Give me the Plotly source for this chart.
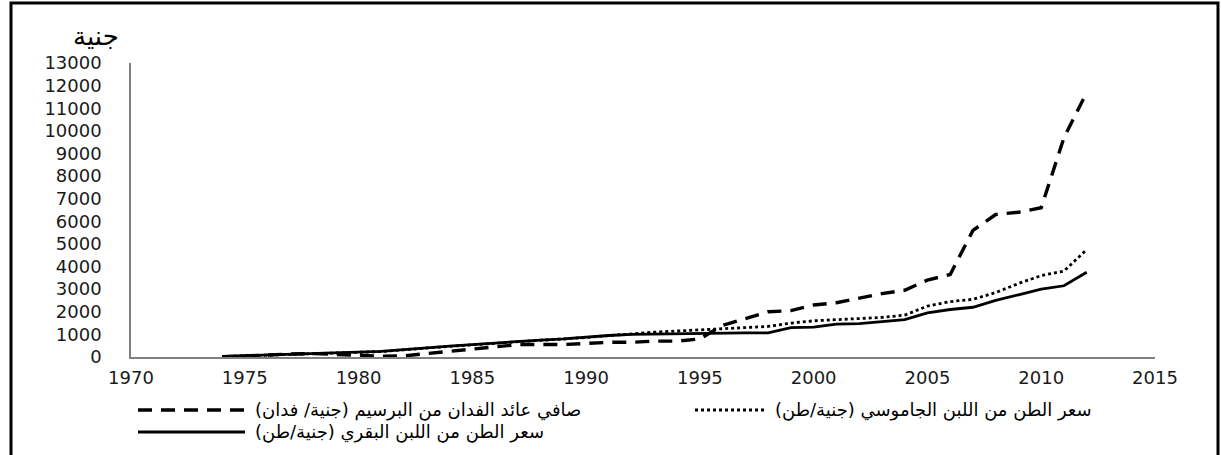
import plotly.graph_objects as go

years = list(range(1974, 2013))

# صافي عائد الفدان من البرسيم (جنية/ فدان)
clover_net = [0, 50, 100, 130, 150, 110, 60, 40, 50, 150, 250, 350, 450, 550, 550, 550,
              600, 650, 650, 700, 700, 800, 1400, 1700, 2000, 2050, 2300, 2400, 2600, 2800,
              2950, 3400, 3650, 5600, 6300, 6400, 6600, 9700, 11700]

# سعر الطن من اللبن الجاموسي (جنية/طن)
buffalo_milk = [20, 50, 90, 120, 160, 180, 200, 240, 320, 410, 470, 540, 610, 690, 740, 790,
                870, 950, 1050, 1100, 1150, 1200, 1250, 1300, 1350, 1500, 1600, 1650, 1700, 1750,
                1850, 2250, 2450, 2550, 2850, 3250, 3600, 3800, 4750]

# سعر الطن من اللبن البقري (جنية/طن)
cow_milk = [30, 60, 100, 130, 170, 190, 210, 250, 330, 420, 480, 550, 620, 700, 750, 800,
            880, 950, 1000, 1020, 1040, 1050, 1070, 1070, 1070, 1300, 1320, 1450, 1480, 1550,
            1650, 1950, 2100, 2200, 2500, 2750, 3000, 3150, 3750]

names = [
    "صافي عائد الفدان من البرسيم (جنية/ فدان)",
    "سعر الطن من اللبن الجاموسي (جنية/طن)",
    "سعر الطن من اللبن البقري (جنية/طن)",
]
y_title = "جنية"

x_ticks = list(range(1970, 2016, 5))
y_ticks = list(range(0, 13001, 1000))

dash_styles = ["14px,9px", "3px,3px", "solid"]
widths = [3.4, 2.8, 2.8]
series = [clover_net, buffalo_milk, cow_milk]

fig = go.Figure()
for vals, nm, ds, w in zip(series, names, dash_styles, widths):
    fig.add_trace(go.Scatter(x=years, y=vals, mode="lines", name=nm,
                             line=dict(color="black", width=w, dash=ds),
                             showlegend=False))

W, H = 1221, 455
L, T = 131, 63
pw, ph = 1024, 294
R = W - L - pw
B = H - T - ph

def px(xp):
    return (xp - L) / pw

def py(yp):
    return (H - B - yp) / ph

tickfont = dict(family="DejaVu Sans", size=18, color="#1a1a1a")
legfont = dict(family="DejaVu Sans", size=18, color="black")

fig.update_layout(
    width=W, height=H,
    margin=dict(l=L, r=R, t=T, b=B, autoexpand=False),
    plot_bgcolor="white", paper_bgcolor="white",
    showlegend=False,
    xaxis=dict(range=[1970, 2015], tickvals=x_ticks, ticktext=[str(v) for v in x_ticks],
               showgrid=False, zeroline=False, showline=True, linecolor="#808080",
               linewidth=1.5, ticks="", tickfont=tickfont, ticklabelstandoff=4),
    yaxis=dict(range=[0, 13000], tickvals=y_ticks, ticktext=[str(v) for v in y_ticks],
               showgrid=False, zeroline=False, showline=True, linecolor="#808080",
               linewidth=1.5, ticks="", tickfont=tickfont, ticklabelstandoff=24),
)

shapes = []
annotations = []

# outer frame
shapes.append(dict(type="rect", xref="paper", yref="paper",
                   x0=px(11), x1=px(1218), y0=py(470), y1=py(3),
                   line=dict(color="black", width=3), fillcolor="rgba(0,0,0,0)"))

# y-axis unit label
annotations.append(dict(text=y_title, xref="paper", yref="paper", x=px(96), y=py(36),
                        showarrow=False, xanchor="center", yanchor="middle",
                        font=dict(family="DejaVu Sans", size=26, color="black")))

# custom legend
leg_items = [
    (0, 138, 245, 410),
    (1, 695, 765, 410),
    (2, 138, 245, 432),
]
for idx, x0, x1, yy in leg_items:
    shapes.append(dict(type="line", xref="paper", yref="paper",
                       x0=px(x0), x1=px(x1), y0=py(yy), y1=py(yy),
                       line=dict(color="black", width=widths[idx], dash=dash_styles[idx])))
    annotations.append(dict(text=names[idx], xref="paper", yref="paper",
                            x=px(x1 + 8), y=py(yy), showarrow=False,
                            xanchor="left", yanchor="middle", font=legfont))

fig.update_layout(shapes=shapes, annotations=annotations)

fig.write_html("out.html", config={"displayModeBar": False},
               post_script="document.body.style.margin='0';document.body.style.overflow='hidden';")
